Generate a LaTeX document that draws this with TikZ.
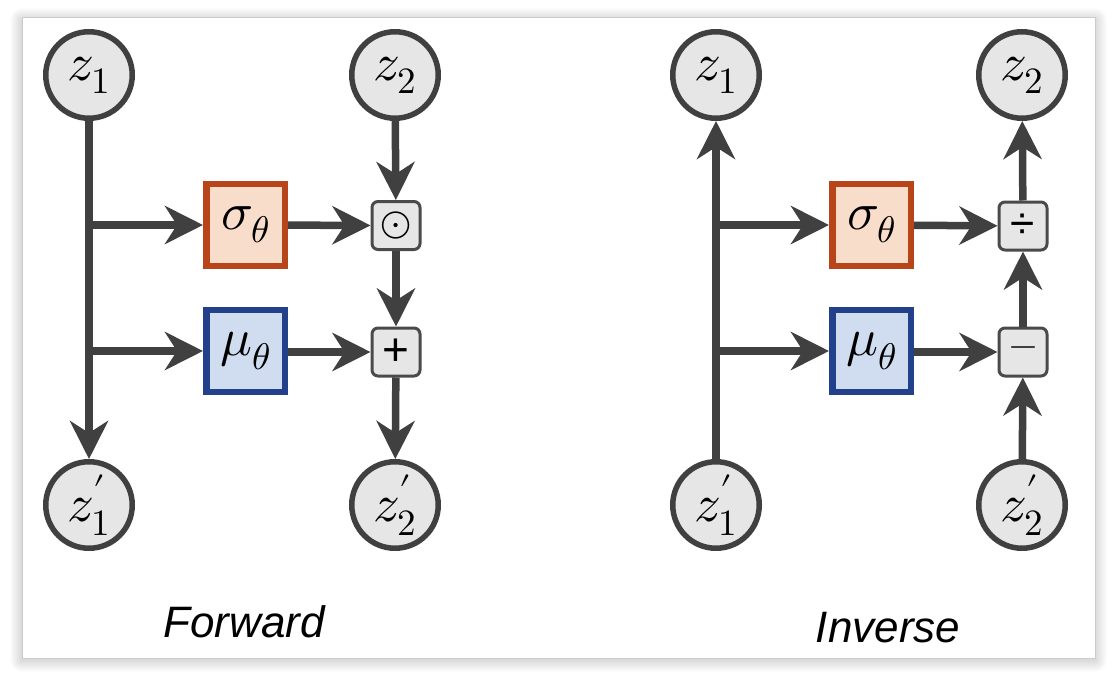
\documentclass[tikz,border=0pt]{standalone}
\usepackage{fontspec}
\usepackage{unicode-math}
\setmathfont{Latin Modern Math}
\newfontfamily\labfont{Liberation Sans}
\usetikzlibrary{arrows.meta}
\definecolor{ln}{HTML}{404040}
\definecolor{cfill}{HTML}{E6E6E6}
\definecolor{opc}{HTML}{4A4A4A}
\definecolor{sigc}{HTML}{B8441A}
\definecolor{sigf}{HTML}{F9DDCB}
\definecolor{muc}{HTML}{22418A}
\definecolor{muf}{HTML}{D0DCEF}
\definecolor{framec}{HTML}{CCCCCC}
\begin{document}
\begin{tikzpicture}[x=1pt,y=-1pt,
  var/.style={circle, draw=ln, line width=5.5pt, fill=cfill, minimum size=86.5pt, inner sep=0pt, font=\fontsize{53}{60}\selectfont},
  sigbox/.style={draw=sigc, fill=sigf, line width=6.5pt, minimum width=78.5pt, minimum height=82pt, inner sep=0pt, font=\fontsize{53}{60}\selectfont},
  mubox/.style={draw=muc, fill=muf, line width=6.5pt, minimum width=78.5pt, minimum height=82pt, inner sep=0pt, font=\fontsize{53}{60}\selectfont},
  opbox/.style={draw=opc, fill=cfill, line width=3pt, rounded corners=6pt, minimum size=48pt, inner sep=0pt},
  arr/.style={draw=ln, line width=7.5pt, -{Stealth[length=38pt,width=38pt,inset=12pt]}},
  lab/.style={anchor=base, font=\labfont\itshape\fontsize{44}{50}\selectfont}
]
\useasboundingbox (0,0) rectangle (1119,685);
% frame with soft shadow
\foreach \i in {1,...,12}{
  \fill[black, opacity=0.012, rounded corners=\i pt] ({22-\i},{18-\i+2}) rectangle ({1095+\i},{658+\i+2});
}
\draw[draw=framec, line width=1pt, fill=white] (22,18) rectangle (1095,658);

% ---------- Forward ----------
\node[var] (z1F) at (89,75) {$z_1$};
\node[var] (z2F) at (395,75) {$z_2$};
\node[var] (z1pF) at (89,505) {$z_1'$};
\node[var] (z2pF) at (395,505) {$z_2'$};
\node[sigbox] (sigF) at (245.5,225) {$\sigma_\theta$};
\node[mubox] (muF) at (245.5,351) {$\mu_\theta$};
\node[opbox, font=\fontsize{40}{48}\selectfont] (odot) at (396,225.5) {$\odot$};
\node[opbox, font=\labfont\fontsize{46}{50}\selectfont] (plus) at (396,352) {+};
\coordinate (bF1) at (z1F |- sigF);
\coordinate (bF2) at (z1F |- muF);

\draw[arr] (z1F) -- (z1pF);
\draw[arr] (bF1) -- (sigF);
\draw[arr] (bF2) -- (muF);
\draw[arr] (sigF) -- (odot);
\draw[arr] (muF.east |- plus) -- (plus);
\draw[arr] (z2F) -- (odot);
\draw[arr] (odot) -- (plus);
\draw[arr] (plus) -- (z2pF);
\node[lab] (fwd) at (244,637) {Forward};

% ---------- Inverse ----------
\node[var] (z1I) at (716,75) {$z_1$};
\node[var] (z2I) at (1022,75) {$z_2$};
\node[var] (z1pI) at (716,505) {$z_1'$};
\node[var] (z2pI) at (1022,505) {$z_2'$};
\node[sigbox] (sigI) at (871.5,225) {$\sigma_\theta$};
\node[mubox] (muI) at (871.5,351) {$\mu_\theta$};
\node[opbox, font=\labfont\fontsize{44}{50}\selectfont] (div) at (1023,226) {÷};
\node[opbox, font=\fontsize{36}{44}\selectfont] (minus) at (1023,352) {$-$};
\coordinate (bI1) at (z1I |- sigI);
\coordinate (bI2) at (z1I |- muI);

\draw[arr] (z1pI) -- (z1I);
\draw[arr] (bI1) -- (sigI);
\draw[arr] (bI2) -- (muI);
\draw[arr] (sigI) -- (div);
\draw[arr] (muI.east |- minus) -- (minus);
\draw[arr] (z2pI) -- (minus);
\draw[arr] (minus) -- (div);
\draw[arr] (div) -- (z2I);
\node[lab] (inv) at (888,642) {Inverse};
\end{tikzpicture}
\end{document}
